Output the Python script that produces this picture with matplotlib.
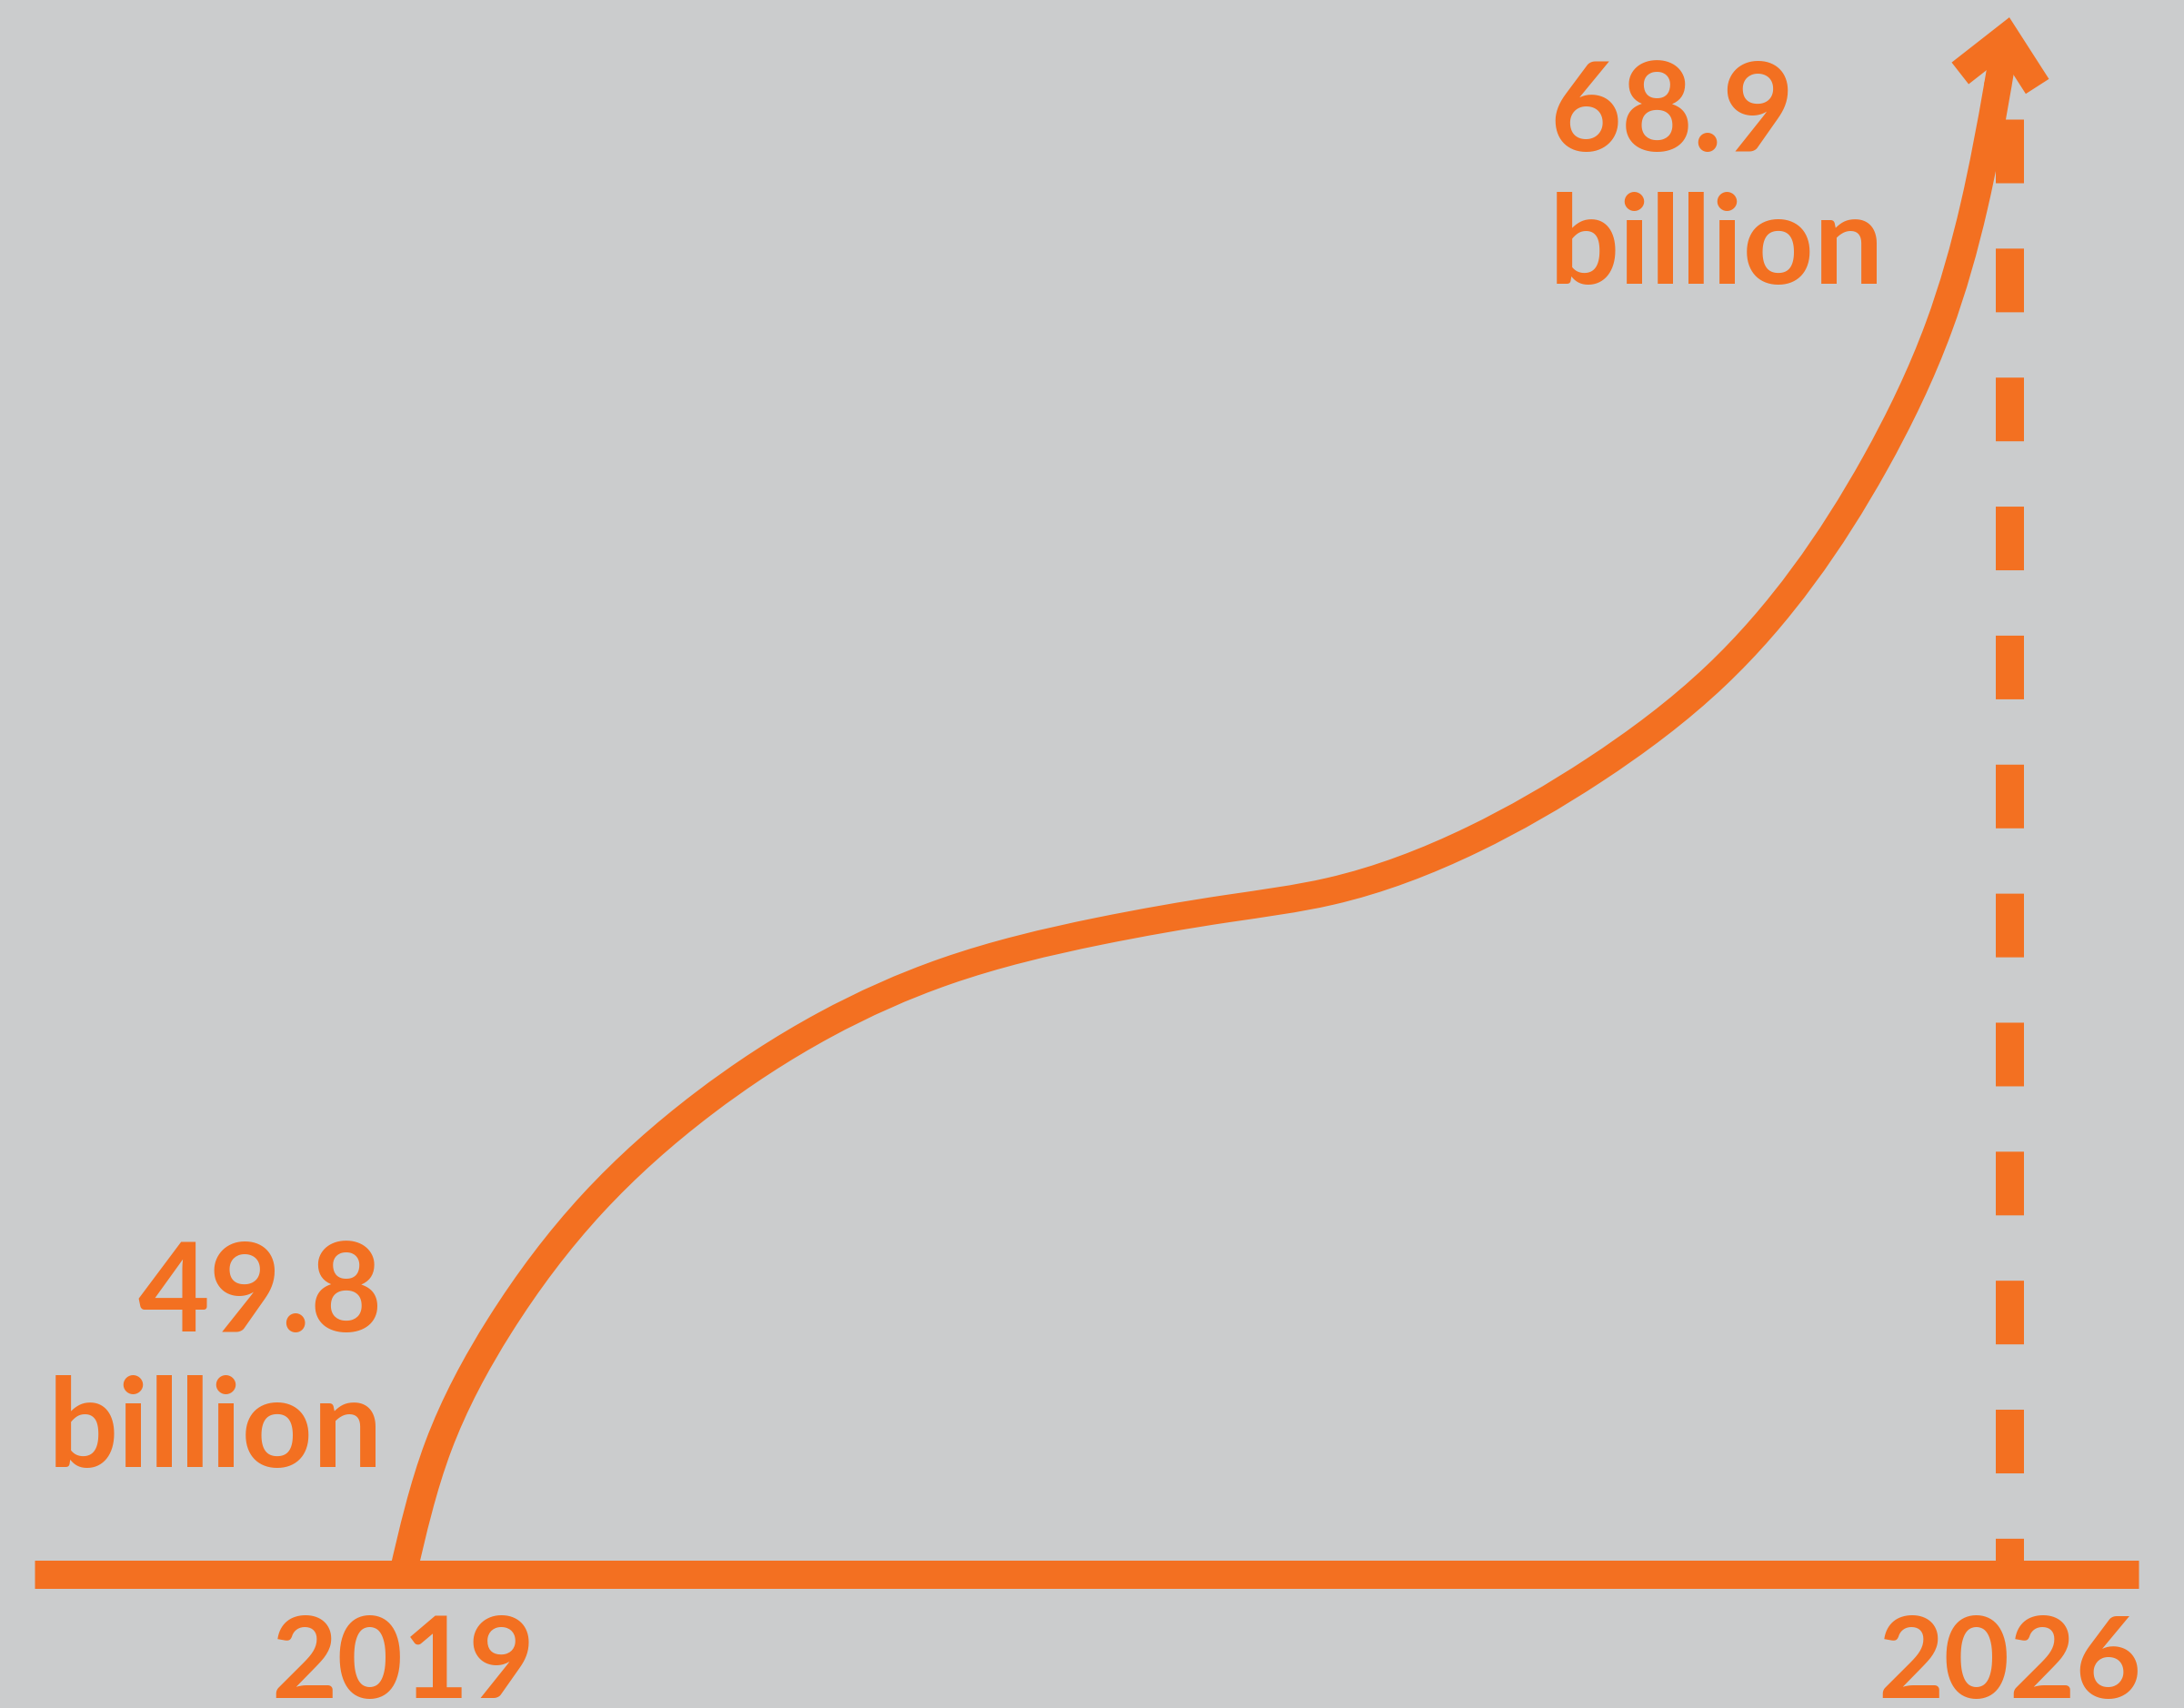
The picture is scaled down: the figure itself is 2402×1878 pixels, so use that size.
import numpy as np
import matplotlib
matplotlib.use("Agg")
import matplotlib.pyplot as plt
from matplotlib.path import Path
from matplotlib.patches import PathPatch

# ---- data ----
years = [2019.000, 2019.155, 2019.424, 2019.828, 2020.307, 2020.838, 2021.365,
         2022.031, 2022.594, 2023.041, 2023.663, 2024.190, 2024.721, 2025.414,
         2025.692, 2025.846, 2025.949, 2026.000]
values = [49.800, 51.373, 52.857, 54.352, 55.568, 56.539, 57.197,
          57.688, 57.967, 58.179, 58.815, 59.663, 60.823, 63.423,
          65.096, 66.580, 68.053, 68.900]
start_label = ["49.8", "billion"]
end_label = ["68.9", "billion"]
tick_years = [2019, 2026]
tick_labels = ["2019", "2026"]

# ---- style ----
ORANGE = "#F37021"
BG = "#CBCCCD"
FONT = ["Lato", "DejaVu Sans"]
FS = 98
FS_YEAR = 90
LW = 21.8  # points (~30 px at 100 dpi)

fig = plt.figure(figsize=(24.02, 18.78), dpi=100)
fig.patch.set_facecolor(BG)
ax = fig.add_axes([0, 0, 1, 1])
ax.set_facecolor(BG)
ax.set_xlim(2017.245, 2026.761)
ax.set_ylim(48.160, 69.113)
ax.axis("off")

base = values[0]

# baseline
ax.axhline(base, xmin=38 / 2402, xmax=2352 / 2402, color=ORANGE, lw=22.3,
           solid_capstyle="butt", zorder=3)

# dashed guide at the final year
dash_top = 67.65
ax.plot([tick_years[1], tick_years[1]], [dash_top, base], color=ORANGE, lw=22.3,
        dashes=(2.26, 2.32), dash_capstyle="butt", zorder=2)

# growth curve: smooth (curvature-continuous) line through the read points,
# drawn as Bezier segments; geometry solved in display space
T = ax.transData
P = T.transform(np.column_stack([years, values]))
n = len(P)
h = np.hypot(*(np.diff(P, axis=0).T))
A = np.zeros((n, n))
rhs = np.zeros((n, 2))
A[0, 0] = A[-1, -1] = 1.0
for i in range(1, n - 1):
    A[i, i - 1] = h[i - 1]
    A[i, i] = 2 * (h[i - 1] + h[i])
    A[i, i + 1] = h[i]
    rhs[i] = 6 * ((P[i + 1] - P[i]) / h[i] - (P[i] - P[i - 1]) / h[i - 1])
M = np.linalg.solve(A, rhs)
verts_px = [P[0]]
codes = [Path.MOVETO]
for i in range(n - 2):  # last straight piece is drawn by the arrow
    s = (P[i + 1] - P[i]) / h[i]
    m0 = s - h[i] * (2 * M[i] + M[i + 1]) / 6
    m1 = s + h[i] * (M[i] + 2 * M[i + 1]) / 6
    verts_px += [P[i] + m0 * h[i] / 3, P[i + 1] - m1 * h[i] / 3, P[i + 1]]
    codes += [Path.CURVE4] * 3
verts = T.inverted().transform(np.array(verts_px))
ax.add_patch(PathPatch(Path(verts, codes), fill=False, edgecolor=ORANGE, lw=LW,
                       capstyle="round", joinstyle="round", zorder=4))

ax.annotate("", xy=(years[-1], values[-1]), xytext=(years[-2], values[-2]),
            arrowprops=dict(arrowstyle="->,head_length=34,head_width=31",
                            mutation_scale=1, lw=LW, color=ORANGE,
                            shrinkA=0, shrinkB=0, joinstyle="miter",
                            capstyle="butt"),
            zorder=5)

tkw = dict(textcoords="offset pixels", color=ORANGE,
           fontweight="bold", family=FONT, va="baseline")

# start label (right aligned, left of the curve start)
ax.annotate(start_label[0], xy=(years[0], values[0]), xytext=(-22, 267),
            ha="right", fontsize=FS, **tkw)
ax.annotate(start_label[1], xy=(years[0], values[0]), xytext=(-22, 118),
            ha="right", fontsize=FS, **tkw)

# end label (left aligned, left of the arrow tip)
ax.annotate(end_label[0], xy=(years[-1], values[-1]), xytext=(-506, -147),
            ha="left", fontsize=FS, **tkw)
ax.annotate(end_label[1], xy=(years[-1], values[-1]), xytext=(-506, -293),
            ha="left", fontsize=FS, **tkw)

# year labels under the baseline
for yr, lab in zip(tick_years, tick_labels):
    ax.annotate(lab, xy=(yr, base), xytext=(0, -136), ha="center",
                fontsize=FS_YEAR, **tkw)

fig.savefig("out.png", dpi=100, facecolor=BG)
